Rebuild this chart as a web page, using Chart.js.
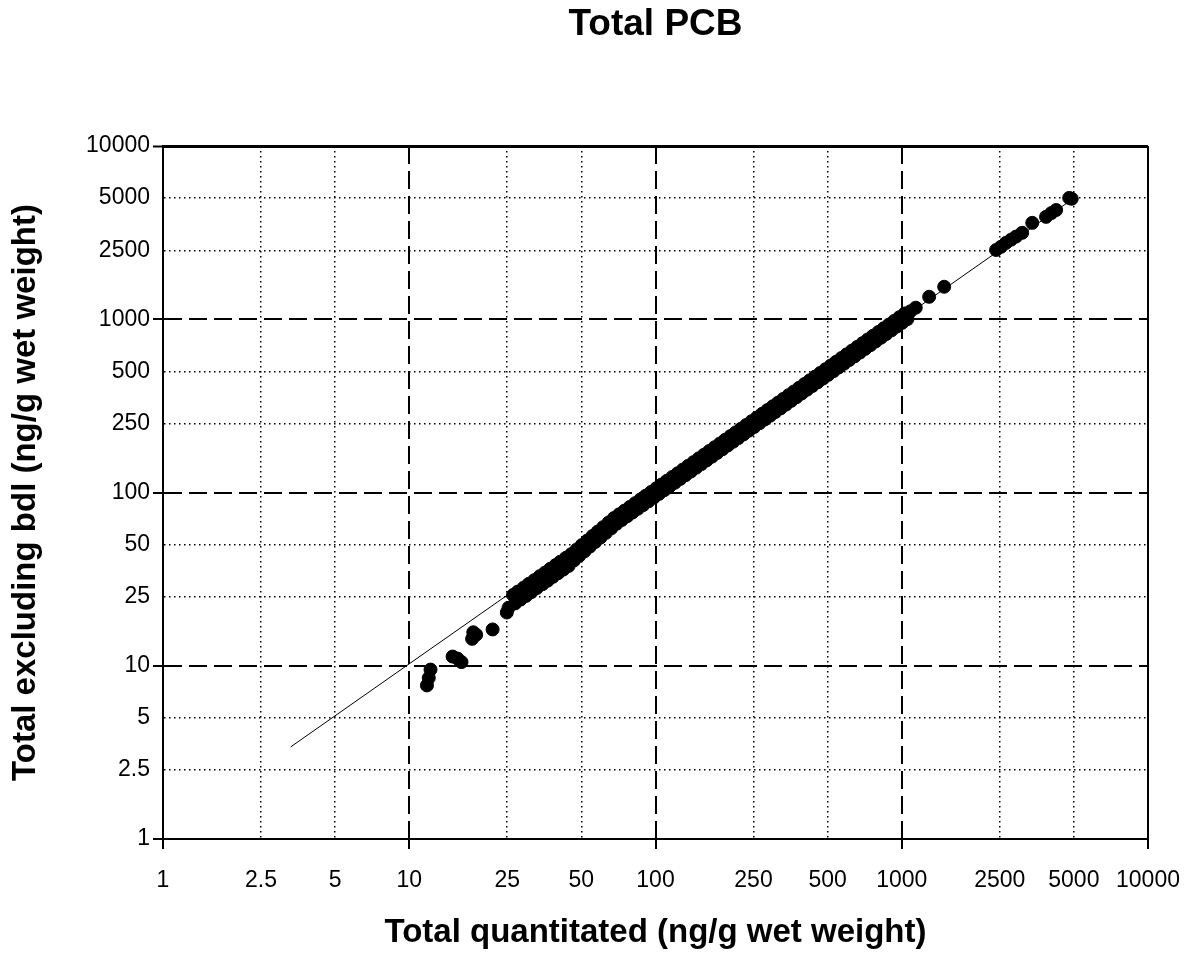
<!DOCTYPE html>
<html>
<head>
<meta charset="utf-8">
<script src="https://cdn.jsdelivr.net/npm/chart.js@4.4.1/dist/chart.umd.min.js"></script>
<style>
  html, body { margin: 0; padding: 0; background: #fff; }
  #wrap { width: 1194px; height: 955px; }
</style>
</head>
<body>
<div id="wrap"><canvas id="c" width="1194" height="955"></canvas></div>
<script>
// ---- data ----
const chartTitle = 'Total PCB';
const xAxisTitle = 'Total quantitated (ng/g wet weight)';
const yAxisTitle = 'Total excluding bdl (ng/g wet weight)';

const tickValues = [1, 2.5, 5, 10, 25, 50, 100, 250, 500, 1000, 2500, 5000, 10000];
const tickLabels = ['1', '2.5', '5', '10', '25', '50', '100', '250', '500', '1000', '2500', '5000', '10000'];

const totalQuantitated = [
  11.8, 12.0, 12.2, 15.0, 15.7, 16.3, 18.0, 18.2, 18.7, 21.8, 24.9, 25.3,
  26.4, 26.9, 27.6, 28.3, 29.2, 29.8, 30.6, 31.3, 32.2, 33.0, 33.9, 34.8,
  35.6, 36.5, 37.4, 38.3, 39.3, 40.2, 41.1, 42.2, 43.3, 44.4, 45.5, 46.7,
  47.9, 49.0, 50.2, 51.5, 52.8, 54.1, 55.5, 56.9, 58.3, 59.8, 61.3, 62.9,
  64.5, 66.1, 67.8, 69.5, 71.2, 73.0, 74.9, 76.8, 78.7, 80.7, 82.7, 84.8,
  86.9, 89.1, 91.3, 93.6, 96.0, 98.4, 100.9, 103.4, 106.0, 108.6, 111.3, 114.1,
  117.0, 119.9, 122.9, 126.0, 129.2, 132.4, 135.7, 139.1, 142.6, 146.2, 149.9, 153.6,
  157.4, 161.3, 165.4, 169.5, 173.8, 178.1, 182.6, 187.1, 191.8, 196.6, 201.5, 206.6,
  211.7, 217.0, 222.5, 228.0, 233.7, 239.6, 245.6, 251.7, 258.0, 264.5, 271.1, 277.9,
  284.8, 292.0, 299.3, 306.8, 314.5, 322.3, 330.4, 338.6, 347.1, 355.8, 364.7, 373.8,
  383.2, 392.7, 402.6, 412.6, 422.9, 433.5, 444.4, 455.4, 466.8, 478.5, 490.5, 502.7,
  515.3, 528.2, 541.4, 554.9, 568.8, 583.0, 597.6, 612.5, 627.8, 643.5, 659.6, 676.1,
  693.0, 710.3, 728.1, 746.3, 764.9, 784.0, 803.6, 823.7, 844.3, 865.4, 887.0, 909.2,
  931.9, 955.2, 979.1, 1003.6, 1028.7, 1054.4, 1085, 1140, 1292, 1487,
  2417, 2530, 2650, 2780, 2910, 3083, 3388, 3855, 4050, 4236, 4786, 4900
];
const totalExcludingBdl = [
  7.7, 8.5, 9.5, 11.3, 11.0, 10.5, 14.3, 15.6, 15.1, 16.2, 20.3, 21.6,
  25.6, 22.9, 26.8, 24.1, 28.3, 25.3, 29.7, 26.6, 31.2, 28.1, 32.9, 29.6,
  34.5, 31.0, 36.3, 32.6, 38.1, 34.2, 39.9, 35.9, 42.0, 37.7, 44.1, 40.6,
  46.9, 43.1, 49.7, 45.8, 52.8, 48.7, 56.1, 51.8, 59.5, 55.0, 63.1, 58.5,
  67.1, 62.1, 71.2, 66.0, 74.8, 69.4, 78.6, 73.0, 82.6, 76.7, 86.8, 80.6,
  91.2, 84.6, 95.9, 88.9, 100.8, 93.5, 105.9, 98.2, 111.3, 103.2, 116.9, 108.4,
  122.9, 113.9, 129.0, 119.7, 135.7, 125.8, 142.5, 132.1, 149.7, 138.9, 157.4, 145.9,
  165.3, 153.2, 173.7, 161.0, 182.5, 169.2, 191.7, 177.7, 201.4, 186.8, 211.6, 196.3,
  222.3, 206.2, 233.6, 216.6, 245.4, 227.6, 257.9, 239.1, 270.9, 251.3, 284.7, 264.0,
  299.0, 277.4, 314.3, 291.5, 330.2, 306.2, 346.9, 321.7, 364.5, 338.0, 382.9, 355.1,
  402.4, 373.1, 422.7, 392.0, 444.0, 411.8, 466.6, 432.6, 490.1, 454.6, 515.0, 477.6,
  541.1, 501.8, 568.5, 527.2, 597.2, 553.9, 627.5, 581.9, 659.2, 611.3, 692.6, 642.3,
  727.7, 674.8, 764.5, 709.0, 803.1, 744.8, 843.8, 782.5, 886.5, 822.1, 931.4, 863.7,
  978.5, 907.4, 1028.1, 953.4, 1080.1, 1001.7, 1112, 1166, 1348, 1540,
  2512, 2620, 2760, 2880, 3000, 3155, 3600, 3900, 4100, 4270, 5015, 4960
];

// 1:1 reference line
const refLineX = [3.3, 4800];
const refLineY = [3.4, 4800];

// ---- chart ----
const decades = [1, 10, 100, 1000, 10000];
const isDecade = v => decades.includes(v);

const pointsData = totalQuantitated.map((x, i) => ({ x: x, y: totalExcludingBdl[i] }));
const lineData = refLineX.map((x, i) => ({ x: x, y: refLineY[i] }));

function gridWidth(axis) {
  return c => {
    const v = c.tick ? c.tick.value : null;
    if (v === 10000) return axis === 'y' ? 3 : 2;
    if (isDecade(v)) return 2;
    return 1.5;
  };
}
const gridDash = c => {
  if (!c.tick) return [];
  const v = c.tick.value;
  if (v === 1 || v === 10000) return [];
  if (isDecade(v)) return [18, 7];
  return [1.5, 3.5];
};
const tickColor = c => (c.tick && isDecade(c.tick.value)) ? '#000' : 'rgba(0,0,0,0)';
const tickFont = { family: "'Liberation Sans', Arial, sans-serif", size: 23 };
const titleFont = { family: "'Liberation Sans', Arial, sans-serif", size: 33, weight: 'bold' };

new Chart(document.getElementById('c'), {
  type: 'scatter',
  data: {
    datasets: [
      {
        label: 'samples',
        data: pointsData,
        pointRadius: 6.5,
        pointBorderWidth: 1,
        pointBackgroundColor: '#000',
        pointBorderColor: '#000',
        showLine: false
      },
      {
        label: '1:1',
        type: 'line',
        data: lineData,
        borderColor: '#000',
        borderWidth: 1,
        pointRadius: 0,
        fill: false,
        showLine: true
      }
    ]
  },
  options: {
    responsive: false,
    animation: false,
    layout: { padding: { left: 0, right: 46, top: 0, bottom: 0 } },
    plugins: {
      legend: { display: false },
      tooltip: { enabled: false },
      title: {
        display: true,
        text: chartTitle,
        fullSize: false,
        color: '#000',
        font: { family: "'Liberation Sans', Arial, sans-serif", size: 37, weight: 'bold' },
        padding: { top: 3, bottom: 98.6 }
      }
    },
    scales: {
      x: {
        type: 'logarithmic',
        position: 'bottom',
        min: 1,
        max: 10000,
        afterBuildTicks: s => { s.ticks = tickValues.map(v => ({ value: v })); },
        afterFit: s => { s.height = 116; s.paddingRight = 30; s.paddingLeft = 0; },
        ticks: {
          autoSkip: false,
          maxRotation: 0,
          minRotation: 0,
          padding: 18,
          color: '#000',
          font: tickFont,
          callback: (v, i) => tickLabels[i]
        },
        grid: {
          color: '#000',
          lineWidth: gridWidth('x'),
          tickLength: 10,
          tickWidth: 2,
          tickColor: tickColor
        },
        border: { display: true, color: '#000', width: 2, dash: gridDash },
        title: {
          display: true,
          text: xAxisTitle,
          color: '#000',
          font: titleFont,
          padding: { top: 0, bottom: 2 }
        }
      },
      y: {
        type: 'logarithmic',
        position: 'left',
        min: 1,
        max: 10000,
        afterBuildTicks: s => { s.ticks = tickValues.map(v => ({ value: v })); },
        afterFit: s => { s.width = 163; },
        ticks: {
          autoSkip: false,
          padding: 3,
          color: '#000',
          font: tickFont,
          callback: (v, i) => tickLabels[i]
        },
        grid: {
          color: '#000',
          lineWidth: gridWidth('y'),
          tickLength: 10,
          tickWidth: 2,
          tickColor: tickColor
        },
        border: { display: true, color: '#000', width: 2, dash: gridDash },
        title: {
          display: true,
          text: yAxisTitle,
          color: '#000',
          font: titleFont,
          padding: { top: 6, bottom: 0 }
        }
      }
    }
  }
});
</script>
</body>
</html>
